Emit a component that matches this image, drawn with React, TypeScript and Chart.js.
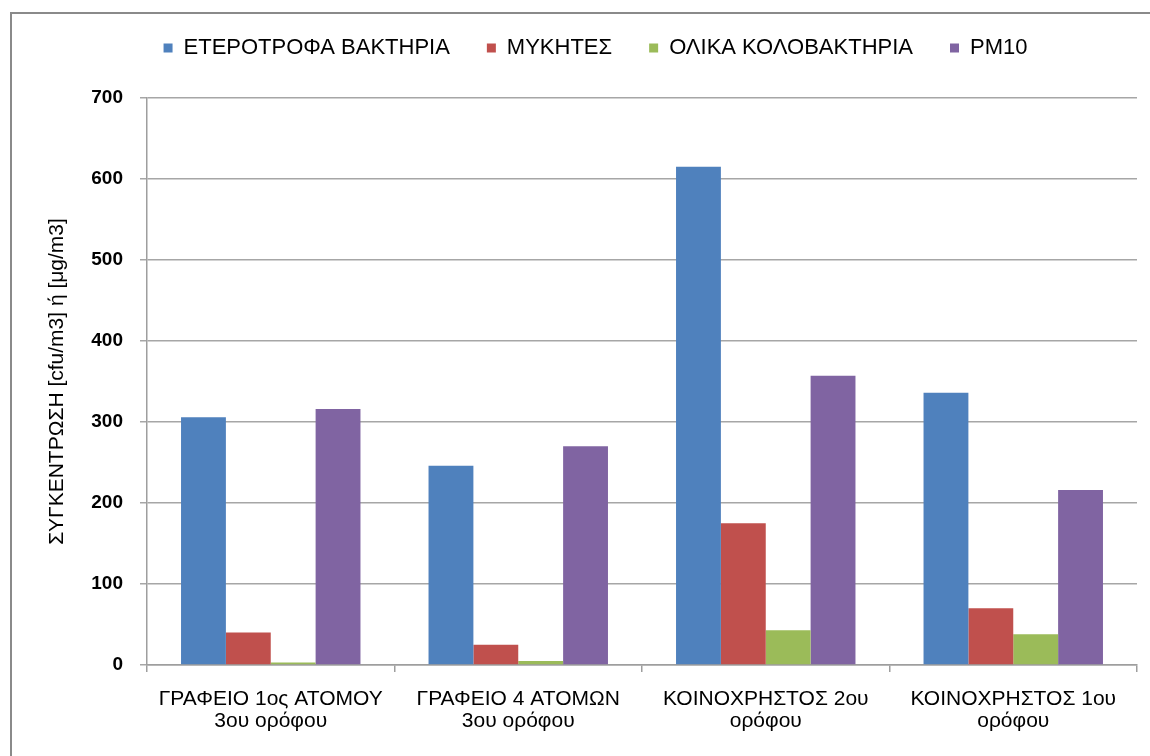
import React, { useEffect, useRef } from "react";
import { Chart, registerables } from "chart.js";

Chart.register(...registerables);

const categories: string[][] = [
  ["ΓΡΑΦΕΙΟ 1ος ΑΤΟΜΟΥ", "3ου ορόφου"],
  ["ΓΡΑΦΕΙΟ 4 ΑΤΟΜΩΝ", "3ου ορόφου"],
  ["ΚΟΙΝΟΧΡΗΣΤΟΣ 2ου", "ορόφου"],
  ["ΚΟΙΝΟΧΡΗΣΤΟΣ 1ου", "ορόφου"],
];
const seriesNames = ["ΕΤΕΡΟΤΡΟΦΑ ΒΑΚΤΗΡΙΑ", "ΜΥΚΗΤΕΣ", "ΟΛΙΚΑ ΚΟΛΟΒΑΚΤΗΡΙΑ", "PM10"];
const heterotrophicBacteria = [306, 246, 615, 336];
const fungi = [40, 25, 175, 70];
const totalColiforms = [3, 5, 43, 38];
const pm10 = [316, 270, 357, 216];
const yMin = 0;
const yMax = 700;
const yStep = 100;
const yTitle = "ΣΥΓΚΕΝΤΡΩΣΗ [cfu/m3] ή [μg/m3]";

const colors = ["#4F81BD", "#C0504D", "#9BBB59", "#8064A2"];
const FONT = "'Liberation Sans', Arial, sans-serif";

const legendPlugin = {
  id: "legendTweak",
  beforeInit(chart: any) {
    const legend = chart.legend;
    if (!legend) return;
    const orig = legend.fit;
    legend.fit = function () {
      orig.call(this);
      this.height = 98;
    };
  },
  afterLayout(chart: any) {
    const l = chart.legend;
    if (l) {
      l.left += 27;
      l.right += 27;
    }
  },
};

export default function App() {
  const ref = useRef<HTMLCanvasElement | null>(null);

  useEffect(() => {
    if (!ref.current) return;
    const seriesValues = [heterotrophicBacteria, fungi, totalColiforms, pm10];
    const chart = new Chart(ref.current, {
      type: "bar",
      data: {
        labels: categories,
        datasets: seriesNames.map((name, i) => ({
          label: name,
          data: seriesValues[i],
          backgroundColor: colors[i],
          borderWidth: 0,
          barPercentage: 1,
          categoryPercentage: 0.725,
        })),
      },
      options: {
        animation: false,
        responsive: false,
        devicePixelRatio: 1,
        layout: { padding: { top: 0, left: 0, right: 13, bottom: 0 } },
        plugins: {
          tooltip: { enabled: false },
          legend: {
            position: "top",
            labels: {
              boxWidth: 9,
              boxHeight: 9,
              padding: 37,
              color: "#000",
              font: { family: FONT, size: 22 },
            },
          },
        },
        scales: {
          x: {
            offset: true,
            afterFit: (s: any) => {
              s.height = 91;
            },
            grid: {
              display: true,
              drawOnChartArea: false,
              drawTicks: true,
              tickLength: 7,
              color: "#9e9e9e",
              lineWidth: 1.5,
              offset: true,
            },
            border: { display: true, color: "#9e9e9e", width: 1.5 },
            ticks: {
              autoSkip: false,
              maxRotation: 0,
              minRotation: 0,
              padding: 16,
              color: "#000",
              font: { family: FONT, size: 21, lineHeight: 1.05 },
            },
          },
          y: {
            min: yMin,
            max: yMax,
            afterFit: (s: any) => {
              s.width = 147;
            },
            ticks: {
              stepSize: yStep,
              padding: 17,
              color: "#000",
              font: { family: FONT, size: 19, weight: "bold" },
            },
            grid: {
              color: "#a6a6a6",
              lineWidth: 1.5,
              tickLength: 7,
              drawTicks: true,
            },
            border: { display: true, color: "#9e9e9e", width: 1.5 },
            title: {
              display: true,
              text: yTitle,
              color: "#000",
              font: { family: FONT, size: 21 },
              padding: { top: 45, bottom: 0 },
            },
          },
        },
      },
      plugins: [legendPlugin],
    } as any);
    return () => chart.destroy();
  }, []);

  return (
    <div style={{ position: "fixed", left: 0, top: 0, width: 1150, height: 756, background: "#fff", overflow: "hidden" }}>
      <div
        style={{
          position: "absolute",
          left: 10,
          top: 12,
          width: 1160,
          height: 770,
          border: "2px solid #8a8a8a",
          boxSizing: "border-box",
        }}
      />
      <canvas ref={ref} width={1150} height={756} style={{ position: "absolute", left: 0, top: 0, width: 1150, height: 756 }} />
    </div>
  );
}
